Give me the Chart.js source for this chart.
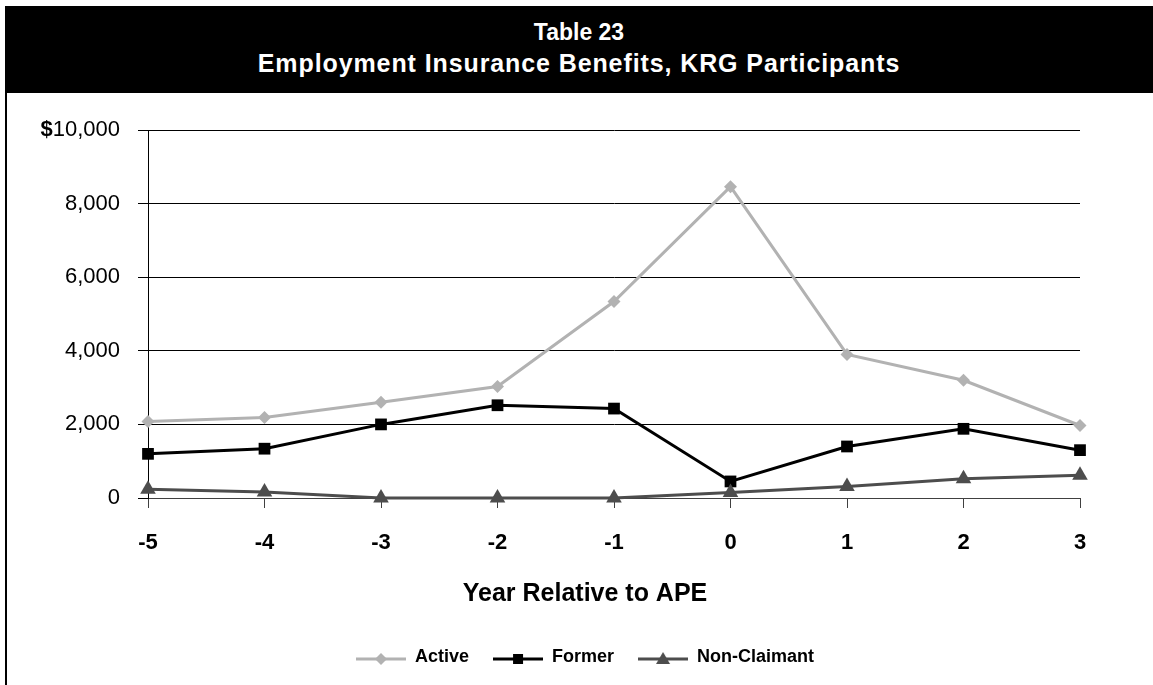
<!DOCTYPE html>
<html>
<head>
<meta charset="utf-8">
<script src="https://cdn.jsdelivr.net/npm/chart.js@4/dist/chart.umd.min.js"></script>
<style>
  html, body { margin: 0; padding: 0; background: #fff; }
  #wrap { position: relative; width: 1153px; height: 685px; overflow: hidden; font-family: "Liberation Sans", Arial, sans-serif; }
  #chart { position: absolute; left: 0; top: 0; }
  #band { position: absolute; left: 5px; top: 6px; width: 1148px; height: 87px; background: #000; color: #fff; z-index: 2; }
  #t1 { position: absolute; left: 0; width: 100%; top: 12px; text-align: center; font-weight: bold; font-size: 23px; line-height: 28px; }
  #t2 { position: absolute; left: 0; width: 100%; top: 43px; text-align: center; font-weight: bold; font-size: 25px; line-height: 28px; letter-spacing: 0.9px; }
  #lb { position: absolute; left: 5px; top: 6px; width: 2px; height: 679px; background: #000; z-index: 2; }
</style>
</head>
<body>
<div id="wrap">
  <canvas id="chart" width="1153" height="685"></canvas>
  <div id="band"><div id="t1">Table 23</div><div id="t2">Employment Insurance Benefits, KRG Participants</div></div>
  <div id="lb"></div>
</div>
<script>
// ---- data ----
const categories = ['-5', '-4', '-3', '-2', '-1', '0', '1', '2', '3'];
const active = [2080, 2190, 2600, 3030, 5340, 8460, 3900, 3200, 1970];
const former = [1200, 1340, 2000, 2520, 2430, 450, 1400, 1880, 1300];
const nonClaimant = [240, 160, 0, 0, 0, 150, 310, 520, 620];
const seriesNames = ['Active', 'Former', 'Non-Claimant'];
const yTicks = [0, 2000, 4000, 6000, 8000, 10000];
const xTitle = 'Year Relative to APE';

const FONT = '"Liberation Sans", Arial, sans-serif';
const C_ACTIVE = '#b2b2b2', C_FORMER = '#000000', C_NC = '#4d4d4d';

function legendSymbol(color, shape) {
  const c = document.createElement('canvas');
  c.width = 50; c.height = 18;
  const g = c.getContext('2d');
  const cy = 11;
  g.strokeStyle = color; g.lineWidth = 3;
  g.beginPath(); g.moveTo(0, cy); g.lineTo(50, cy); g.stroke();
  g.fillStyle = color;
  g.beginPath();
  if (shape === 'diamond') {
    g.moveTo(25, cy - 6); g.lineTo(31, cy); g.lineTo(25, cy + 6); g.lineTo(19, cy);
  } else if (shape === 'square') {
    g.rect(20, cy - 5, 10, 10);
  } else {
    g.moveTo(25, cy - 7); g.lineTo(32, cy + 5); g.lineTo(18, cy + 5);
  }
  g.closePath(); g.fill();
  return c;
}
const symbols = [legendSymbol(C_ACTIVE, 'diamond'), legendSymbol(C_FORMER, 'square'), legendSymbol(C_NC, 'triangle')];

const dollarPlugin = {
  id: 'dollar',
  afterDraw(chart) {
    const ys = chart.scales.y;
    const ctx = chart.ctx;
    const top = yTicks[yTicks.length - 1];
    const xRight = ys.right - ys.options.grid.tickLength - ys.options.ticks.padding;
    const y = ys.getPixelForValue(top);
    ctx.save();
    ctx.font = '22px ' + FONT;
    const w = ctx.measureText(top.toLocaleString('en-US')).width;
    ctx.font = 'bold 22px ' + FONT;
    ctx.fillStyle = '#000';
    ctx.textAlign = 'right';
    ctx.textBaseline = 'middle';
    ctx.fillText('$', xRight - w, y);
    ctx.restore();
  }
};

new Chart(document.getElementById('chart'), {
  type: 'line',
  data: {
    labels: categories,
    datasets: [
      { label: seriesNames[0], data: active, borderColor: C_ACTIVE, backgroundColor: C_ACTIVE, borderWidth: 3,
        pointStyle: 'rectRot', pointRadius: 6.5, pointBorderWidth: 0, order: 3, clip: false },
      { label: seriesNames[1], data: former, borderColor: C_FORMER, backgroundColor: C_FORMER, borderWidth: 3,
        pointStyle: 'rect', pointRadius: 8.3, pointBorderWidth: 0, order: 2, clip: false },
      { label: seriesNames[2], data: nonClaimant, borderColor: C_NC, backgroundColor: C_NC, borderWidth: 3,
        pointStyle: 'triangle', pointRadius: 9, pointBorderWidth: 0, order: 1, clip: false }
    ]
  },
  options: {
    responsive: false,
    animation: false,
    events: [],
    layout: { padding: { left: 40, right: 23, top: 130, bottom: 9 } },
    elements: { line: { tension: 0 } },
    scales: {
      x: {
        grid: { drawOnChartArea: false, drawTicks: true, tickLength: 10, color: '#404040', lineWidth: 1 },
        border: { display: true, color: '#404040', width: 1 },
        ticks: { color: '#000', font: { family: FONT, size: 22, weight: 'bold' }, padding: 22, maxRotation: 0, autoSkip: false },
        afterFit(scale) { scale.height = 60; }
      },
      y: {
        min: 0, max: 10000,
        afterBuildTicks(scale) { scale.ticks = yTicks.map(v => ({ value: v })); },
        grid: { color: '#000', lineWidth: 1, tickLength: 10, drawTicks: true },
        border: { display: true, color: '#000', width: 1 },
        ticks: { color: '#000', font: { family: FONT, size: 22 }, padding: 18,
          callback: v => Number(v).toLocaleString('en-US') },
        afterFit(scale) { scale.width = 108; }
      },
      yRight: {
        position: 'right', display: true, min: 0, max: 10000,
        grid: { display: false, drawTicks: false },
        border: { display: false },
        ticks: { display: false },
        afterFit(scale) { scale.width = 50; }
      }
    },
    plugins: {
      tooltip: { enabled: false },
      title: {
        display: true, text: xTitle, position: 'bottom', weight: 500,
        color: '#000', font: { family: FONT, size: 25, weight: 'bold' },
        padding: { top: 21, bottom: 15 }
      },
      legend: {
        display: true, position: 'bottom',
        labels: {
          usePointStyle: true, pointStyleWidth: 50, padding: 24,
          color: '#000', font: { family: FONT, size: 18, weight: 'bold' },
          sort: (a, b) => a.datasetIndex - b.datasetIndex,
          generateLabels(chart) {
            return chart.data.datasets.map((ds, i) => ({
              text: ds.label, datasetIndex: i, pointStyle: symbols[i],
              fillStyle: ds.borderColor, strokeStyle: ds.borderColor, lineWidth: 0, hidden: false, fontColor: '#000'
            }));
          }
        }
      }
    }
  },
  plugins: [dollarPlugin]
});
</script>
</body>
</html>
